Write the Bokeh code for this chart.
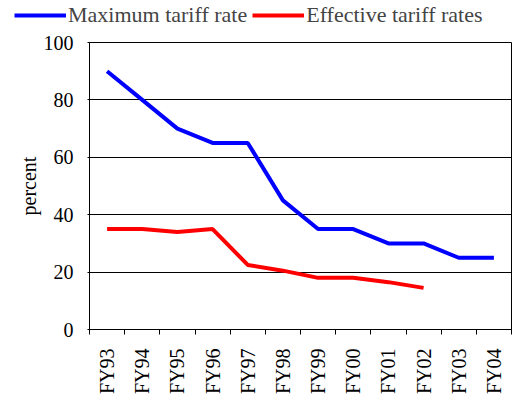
import math
from bokeh.plotting import figure
from bokeh.layouts import column, row
from bokeh.models import Range1d, FixedTicker, Legend, LegendItem, ColumnDataSource
from bokeh.embed import file_html
from bokeh.resources import INLINE

categories = ["FY93", "FY94", "FY95", "FY96", "FY97", "FY98", "FY99", "FY00", "FY01", "FY02", "FY03", "FY04"]
max_rate = [90, 80, 70, 65, 65, 45, 35, 35, 30, 30, 25, 25]
eff_rate = [35, 35, 34, 35, 22.5, 20.5, 18, 18, 16.5, 14.5]
y_ticks = [0, 20, 40, 60, 80, 100]
series_names = ["Maximum tariff rate", "Effective tariff rates"]
series_colors = ["#0000FF", "#FF0000"]

FONT = "Liberation Serif"
FS = "20px"

src_max = ColumnDataSource(dict(x=[i + 0.5 for i in range(len(max_rate))], y=max_rate))
src_eff = ColumnDataSource(dict(x=[i + 0.5 for i in range(len(eff_rate))], y=eff_rate))
sources = [src_max, src_eff]

# ---- legend strip (its ranges keep the series out of view; only the legend shows) ----
leg = figure(width=521, height=28, output_backend="svg", toolbar_location=None,
             x_range=Range1d(-100, -99), y_range=Range1d(0, 1),
             x_axis_type=None, y_axis_type=None,
             min_border_left=0, min_border_right=0, min_border_top=0, min_border_bottom=0)
leg.outline_line_color = None
leg.xgrid.grid_line_color = None
leg.ygrid.grid_line_color = None
lr = [leg.line("x", "y", source=s, line_color=c, line_width=4) for s, c in zip(sources, series_colors)]
legend = Legend(items=[LegendItem(label=n, renderers=[r]) for n, r in zip(series_names, lr)],
                location=(14, 0), orientation="horizontal",
                padding=0, margin=0, spacing=5, glyph_width=52, glyph_height=24,
                label_height=24, label_standoff=2,
                label_text_font=FONT, label_text_font_size="22px",
                background_fill_alpha=0, border_line_color=None)
leg.add_layout(legend, "center")

# ---- main chart ----
p = figure(width=521, height=377, output_backend="svg", toolbar_location=None,
           x_range=Range1d(0, len(categories)), y_range=Range1d(0, 100),
           min_border_left=89, min_border_right=10, min_border_top=14, min_border_bottom=76)
p.background_fill_color = "white"
p.border_fill_color = "white"
p.outline_line_color = "black"
p.outline_line_width = 1

for s, c in zip(sources, series_colors):
    p.line("x", "y", source=s, line_color=c, line_width=4)

# x axis
p.xaxis.ticker = FixedTicker(ticks=[i + 0.5 for i in range(len(categories))],
                             minor_ticks=list(range(len(categories) + 1)))
p.xaxis.major_label_overrides = {i + 0.5: c for i, c in enumerate(categories)}
p.xaxis.major_tick_out = 0
p.xaxis.major_tick_in = 0
p.xaxis.minor_tick_out = 5
p.xaxis.minor_tick_in = 0
p.xaxis.major_label_orientation = math.pi / 2
p.xaxis.major_label_standoff = 14
p.xaxis.axis_line_color = "black"
p.xaxis.minor_tick_line_color = "black"

# y axis
p.yaxis.ticker = FixedTicker(ticks=y_ticks)
p.yaxis.minor_tick_line_color = None
p.yaxis.major_tick_out = 2
p.yaxis.major_tick_in = 0
p.yaxis.major_label_standoff = 14
p.yaxis.axis_label = "percent"
p.yaxis.axis_label_standoff = 1
p.yaxis.axis_line_color = "black"
p.yaxis.major_tick_line_color = "black"

for ax in (p.xaxis, p.yaxis):
    ax.major_label_text_font = FONT
    ax.major_label_text_font_size = FS
    ax.major_label_text_color = "black"
    ax.axis_label_text_font = FONT
    ax.axis_label_text_font_size = FS
    ax.axis_label_text_font_style = "normal"
    ax.axis_label_text_color = "black"

p.xgrid.grid_line_color = None
p.ygrid.ticker = FixedTicker(ticks=y_ticks)
p.ygrid.grid_line_color = "black"
p.ygrid.grid_line_width = 1

layout = column(row(leg), p, spacing=0)
open("out.html", "w").write(file_html(layout, INLINE))
